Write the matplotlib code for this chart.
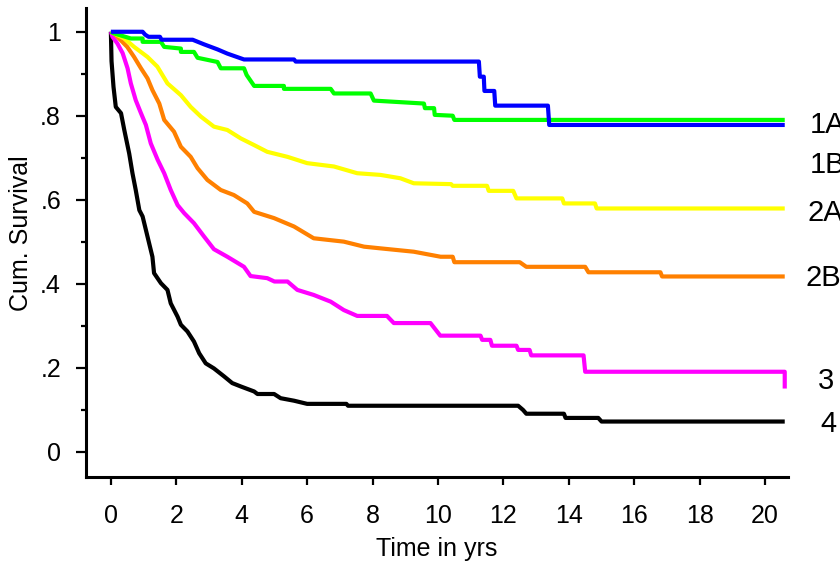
import matplotlib.pyplot as plt
from matplotlib.ticker import MultipleLocator

plt.rcParams['font.family'] = ['Liberation Sans', 'DejaVu Sans']

# stage 1A (blue)
t_1a = [0, 0.97, 1.05, 1.15, 1.5, 1.55, 2.5, 2.85, 3.26, 3.56, 4.07, 5.6, 5.65,
        11.25, 11.28, 11.4, 11.42, 11.72, 11.75, 13.36, 13.4, 20.6]
s_1a = [1.0, 1.0, 0.993, 0.988, 0.988, 0.981, 0.981, 0.970, 0.958, 0.948, 0.934, 0.934, 0.929,
        0.929, 0.893, 0.893, 0.859, 0.859, 0.824, 0.824, 0.778, 0.778]

# stage 1B (green)
t_1b = [0, 0.1, 0.61, 0.97, 0.97, 1.53, 1.63, 2.14, 2.14, 2.54, 2.65, 3.26, 3.36, 4.07, 4.15,
        4.38, 5.29, 5.29, 6.72, 6.82, 7.94, 8.04, 9.57, 9.6, 9.88, 9.9, 10.45, 10.5, 20.6]
s_1b = [1.0, 0.996, 0.984, 0.984, 0.976, 0.976, 0.964, 0.960, 0.952, 0.952, 0.938, 0.928, 0.913, 0.913, 0.897,
        0.871, 0.871, 0.864, 0.864, 0.853, 0.853, 0.836, 0.829, 0.818, 0.818, 0.802, 0.80, 0.79, 0.79]

# stage 2A (yellow)
t_2a = [0, 0.1, 0.41, 0.71, 1.12, 1.42, 1.73, 2.14, 2.44, 2.75, 3.15, 3.56, 3.97, 4.38, 4.78,
        5.4, 6.0, 6.82, 7.53, 8.24, 8.85, 9.26, 10.4, 10.45, 11.5, 11.55, 12.3, 12.4, 13.8, 13.85,
        14.8, 14.85, 20.6]
s_2a = [1.0, 0.996, 0.984, 0.964, 0.940, 0.917, 0.877, 0.849, 0.821, 0.798, 0.774, 0.766, 0.746, 0.730, 0.714,
        0.702, 0.687, 0.679, 0.663, 0.659, 0.651, 0.639, 0.637, 0.633, 0.633, 0.621, 0.621, 0.603, 0.603, 0.591,
        0.591, 0.579, 0.579]

# stage 2B (orange)
t_2b = [0, 0.1, 0.3, 0.5, 0.71, 0.92, 1.12, 1.27, 1.48, 1.63, 1.93, 2.14, 2.44, 2.65, 2.95,
        3.36, 3.76, 4.17, 4.38, 4.99, 5.6, 6.2, 7.12, 7.74, 8.24, 9.26, 10.08, 10.45, 10.5, 12.5,
        12.7, 14.5, 14.6, 16.8, 16.85, 20.6]
s_2b = [1.0, 0.996, 0.980, 0.964, 0.940, 0.913, 0.889, 0.861, 0.829, 0.790, 0.762, 0.726, 0.702, 0.675, 0.647,
        0.623, 0.611, 0.591, 0.571, 0.556, 0.536, 0.508, 0.500, 0.488, 0.484, 0.476, 0.464, 0.464, 0.451, 0.451,
        0.440, 0.440, 0.427, 0.427, 0.417, 0.417]

# stage 3 (magenta)
t_3 = [0, 0.05, 0.2, 0.36, 0.51, 0.61, 0.76, 0.92, 1.07, 1.22, 1.43, 1.63, 1.83, 2.04, 2.24,
       2.54, 2.85, 3.15, 3.56, 4.07, 4.27, 4.78, 5.0, 5.4, 5.7, 6.2, 6.72, 7.12, 7.53, 8.44,
       8.65, 9.77, 10.07, 11.3, 11.35, 11.6, 11.65, 12.4, 12.45, 12.8, 12.85, 14.45, 14.5, 20.6, 20.6]
s_3 = [1.0, 0.988, 0.972, 0.949, 0.913, 0.877, 0.837, 0.806, 0.778, 0.734, 0.695, 0.663, 0.623, 0.587, 0.568,
       0.544, 0.512, 0.482, 0.464, 0.440, 0.418, 0.413, 0.405, 0.405, 0.385, 0.373, 0.357, 0.337, 0.323, 0.323,
       0.306, 0.306, 0.276, 0.276, 0.266, 0.266, 0.252, 0.252, 0.242, 0.242, 0.229, 0.229, 0.190, 0.190, 0.15]

# stage 4 (black)
t_4 = [0, 0.02, 0.08, 0.15, 0.31, 0.41, 0.56, 0.66, 0.76, 0.87, 0.97, 1.07, 1.17, 1.27, 1.32,
       1.53, 1.73, 1.83, 2.04, 2.14, 2.34, 2.54, 2.70, 2.90, 3.15, 3.46, 3.71, 3.97, 4.38, 4.48,
       4.99, 5.19, 5.6, 6.0, 7.2, 7.25, 12.45, 12.6, 12.7, 13.85, 13.9, 14.9, 15.0, 20.6]
s_4 = [1.0, 0.93, 0.869, 0.821, 0.806, 0.766, 0.710, 0.663, 0.623, 0.575, 0.560, 0.528, 0.496, 0.464, 0.425,
       0.401, 0.385, 0.353, 0.321, 0.302, 0.286, 0.262, 0.234, 0.210, 0.198, 0.179, 0.163, 0.155, 0.143, 0.137,
       0.137, 0.127, 0.121, 0.1135, 0.1135, 0.109, 0.109, 0.099, 0.09, 0.09, 0.08, 0.08, 0.0714, 0.0714]

labels = ["1A", "1B", "2A", "2B", "3", "4"]
label_x = [21.37, 21.37, 21.31, 21.24, 21.62, 21.68]
label_y = [0.778, 0.683, 0.568, 0.413, 0.167, 0.066]

yticks = [0, 0.2, 0.4, 0.6, 0.8, 1.0]
ytick_labels = ["0", ".2", ".4", ".6", ".8", "1"]

fig = plt.figure(figsize=(8.4, 5.62), dpi=100)
ax = fig.add_axes([0.1024, 0.1518, 0.8357, 0.8335])

ax.plot(t_4, s_4, color="black", lw=3, solid_capstyle="butt")
ax.plot(t_3, s_3, color="#ff00ff", lw=3, solid_capstyle="butt")
ax.plot(t_2b, s_2b, color="#ff8000", lw=3, solid_capstyle="butt")
ax.plot(t_2a, s_2a, color="#ffff00", lw=3, solid_capstyle="butt")
ax.plot(t_1b, s_1b, color="#00ff00", lw=3, solid_capstyle="butt")
ax.plot(t_1a, s_1a, color="#0000ff", lw=3, solid_capstyle="butt")

for lab, x, y in zip(labels, label_x, label_y):
    ax.text(x, y, lab, fontsize=21, ha="left", va="center", clip_on=False)

ax.set_xlim(-0.76, 20.7)
ax.set_ylim(-0.06, 1.056)
ax.set_xticks(range(0, 21, 2))
ax.set_yticks(yticks)
ax.set_yticklabels(ytick_labels)
ax.yaxis.set_minor_locator(MultipleLocator(0.1))

for side in ["top", "right"]:
    ax.spines[side].set_visible(False)
for side in ["left", "bottom"]:
    ax.spines[side].set_linewidth(2.2)

ax.tick_params(axis="x", which="major", length=6, width=1.6, pad=14, labelsize=18)
ax.tick_params(axis="y", which="major", length=7, width=1.6, pad=11, labelsize=18)
ax.tick_params(axis="y", which="minor", length=3.5, width=1.6)

ax.set_xlabel("Time in yrs", fontsize=18)
ax.set_ylabel("Cum. Survival", fontsize=18)
ax.xaxis.set_label_coords(0.5, -0.128)
ax.yaxis.set_label_coords(-0.0755, 0.52)

fig.savefig("out.png", dpi=100)
